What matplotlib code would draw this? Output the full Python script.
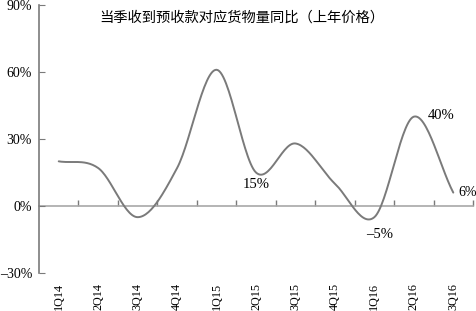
import numpy as np
import matplotlib
matplotlib.use("Agg")
import matplotlib.pyplot as plt
from matplotlib.ticker import FixedLocator, NullFormatter

quarters = ["1Q14", "2Q14", "3Q14", "4Q14", "1Q15", "2Q15",
            "3Q15", "4Q15", "1Q16", "2Q16", "3Q16"]
values = [20, 17, -5, 17, 61, 15, 28, 10, -5, 40, 6]
title = "当季收到预收款对应货物量同比（上年价格）"
labels = {5: "15%", 8: "\u20135%", 9: "40%", 10: "6%"}

serif = ["Liberation Serif", "DejaVu Serif"]
gray = "#7a7a7a"


def smooth(x, y, n=30):
    # catmull-rom style smoothing like the spreadsheet line
    x = np.asarray(x, float)
    y = np.asarray(y, float)
    px = np.concatenate([[2 * x[0] - x[1]], x, [2 * x[-1] - x[-2]]])
    py = np.concatenate([[2 * y[0] - y[1]], y, [2 * y[-1] - y[-2]]])
    xs, ys = [], []
    t = np.linspace(0, 1, n)
    for i in range(1, len(px) - 2):
        for p, out in ((px, xs), (py, ys)):
            p0, p1, p2, p3 = p[i - 1], p[i], p[i + 1], p[i + 2]
            b1 = p1 + (p2 - p0) / 6
            b2 = p2 - (p3 - p1) / 6
            out.extend((1 - t) ** 3 * p1 + 3 * (1 - t) ** 2 * t * b1
                       + 3 * (1 - t) * t ** 2 * b2 + t ** 3 * p2)
    return np.array(xs), np.array(ys)


fig = plt.figure(figsize=(4.77, 3.11), dpi=100)
ax = fig.add_axes([39 / 477, 1 - 273 / 311, 434 / 477, 268 / 311])

xi = np.arange(len(quarters))
sx, sy = smooth(xi, values)
ax.plot(sx, sy, color=gray, lw=1.4, solid_capstyle="round")

ax.set_xlim(-0.5, len(quarters) - 0.5)
ax.set_ylim(-30, 90)
ax.set_yticks([-30, 0, 30, 60, 90])
ax.set_yticklabels(["\u201330%", "0%", "30%", "60%", "90%"], family=serif, fontsize=10)
ax.tick_params(axis="y", direction="in", length=4, color=gray, pad=5)

ax.set_xticks(xi)
ax.set_xticklabels(quarters, rotation=90, family=serif, fontsize=8.7)
ax.tick_params(axis="x", length=0, pad=7)

for s in ["top", "right", "bottom"]:
    ax.spines[s].set_visible(False)
ax.spines["left"].set_color(gray)
ax.spines["left"].set_linewidth(1.2)

# zero line with the category boundary ticks
zero = ax.secondary_xaxis(30 / 120)
zero.xaxis.set_major_locator(FixedLocator(np.arange(0.5, len(quarters), 1.0)))
zero.xaxis.set_major_formatter(NullFormatter())
zero.tick_params(direction="in", length=4, color=gray, width=1)
zero.spines["bottom"].set_color("#a8a8a8")
zero.spines["bottom"].set_linewidth(1.2)

# label offsets in pixels from the data point
offsets = {5: (0, -12, "center"), 8: (5, -17, "center"),
           9: (14, 1, "left"), 10: (5, 0, "left")}
for i, txt in labels.items():
    dx, dy, ha = offsets[i]
    size = 10 if i == 10 else 10.5
    ax.annotate(txt, (i, values[i]), xytext=(dx, dy), textcoords="offset pixels",
                ha=ha, va="center", family=serif, fontsize=size)

fig.text(242 / 477, 1 - 18 / 311, title, ha="center", va="center",
         family=["Noto Sans CJK SC", "DejaVu Sans"], fontsize=10.3)

fig.savefig("out.png", dpi=100)
